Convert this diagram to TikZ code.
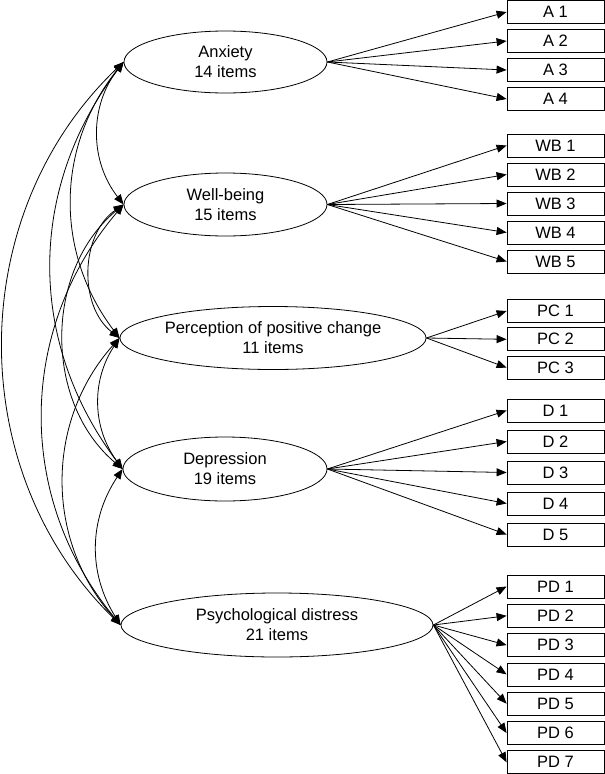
\documentclass[tikz,border=0pt]{standalone}
\usepackage{fontspec}
\setmainfont{Liberation Sans}
\usepackage{tikz}
\usetikzlibrary{shapes.geometric, arrows.meta}
\tikzstyle{latent} = [draw, ellipse, inner sep=0pt, align=center, line width=0.8pt, font=\fontsize{16.5}{20}\selectfont]
\tikzstyle{indicator} = [draw, rectangle, minimum width=97pt, minimum height=23pt, inner sep=0pt, line width=0.8pt, font=\fontsize{16.5}{20}\selectfont]
\tikzstyle{arrow} = [line width=0.8pt, -{Triangle[length=10pt,width=8pt]}]
\tikzstyle{covar} = [line width=0.8pt, {Triangle[length=10pt,width=8pt]}-{Triangle[length=10pt,width=8pt]}]

\begin{document}
\begin{tikzpicture}[x=1pt,y=-1pt]
	\useasboundingbox (0,0) rectangle (605,774);
	
	% Latent factors:
	\node[latent, minimum width=203pt, minimum height=62pt] (anx) at (225.5,62) {Anxiety\\14 items};
	\node[latent, minimum width=203pt, minimum height=63pt] (wb) at (225.5,204.5) {Well-being\\15 items};
	\node[latent, minimum width=300pt, minimum height=63pt] (pc) at (273,338) {Perception of positive change\\11 items};
	\node[latent, minimum width=204pt, minimum height=64pt] (dep) at (225,469) {Depression\\19 items};
	\node[latent, minimum width=312pt, minimum height=64pt] (pd) at (277,625) {Psychological distress\\21 items};
	
	% Items:
	% One box per item, with an arrow from its factor
	\foreach \i in {1,...,4}
	{
		\node[indicator] (A\i) at (555.5,{12+29*(\i-1)}) {A \i};
		\draw[arrow] (anx.east) -- (A\i.west);
	}
	\foreach \i in {1,...,5}
	{
		\node[indicator] (WB\i) at (555.5,{145.5+29*(\i-1)}) {WB \i};
		\draw[arrow] (wb.east) -- (WB\i.west);
	}
	\foreach \i in {1,...,3}
	{
		\node[indicator] (PC\i) at (555.5,{311+28.3*(\i-1)}) {PC \i};
		\draw[arrow] (pc.east) -- (PC\i.west);
	}
	\foreach \i in {1,...,5}
	{
		\node[indicator] (D\i) at (555.5,{410.5+31*(\i-1)}) {D \i};
		\draw[arrow] (dep.east) -- (D\i.west);
	}
	\foreach \i in {1,...,7}
	{
		\node[indicator] (PD\i) at (555.5,{586.5+29.3*(\i-1)}) {PD \i};
		\draw[arrow] (pd.east) -- (PD\i.west);
	}
	
	% Correlations:
	\draw[covar] (anx.west) to[bend right=38] (wb.west);
	\draw[covar] (anx.west) to[bend right=38] (pc.west);
	\draw[covar] (anx.west) to[bend right=37] (dep.west);
	\draw[covar] (anx.west) to[bend right=46] (pd.west);
	\draw[covar] (wb.west) to[bend right=54] (pc.west);
	\draw[covar] (wb.west) to[bend right=50] (dep.west);
	\draw[covar] (wb.west) to[bend right=40] (pd.west);
	\draw[covar] (pc.west) to[bend right=35] (dep.west);
	\draw[covar] (pc.west) to[bend right=42] (pd.west);
	\draw[covar] (dep.west) to[bend right=33] (pd.west);
	
\end{tikzpicture}
\end{document}
